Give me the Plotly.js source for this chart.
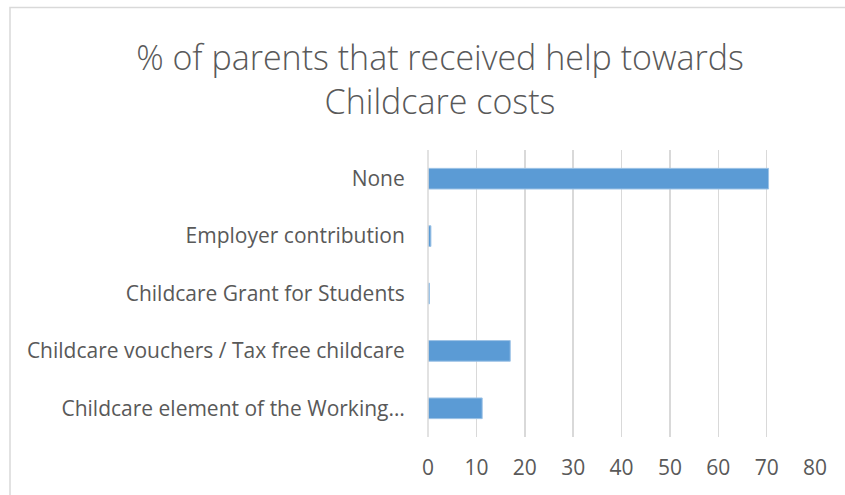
<!DOCTYPE html>
<html>
<head>
<meta charset="utf-8">
<script src="https://cdn.plot.ly/plotly-3.0.1.min.js"></script>
<style>
html,body{margin:0;padding:0;background:#fff;}
#chart{width:845px;height:495px;}
</style>
</head>
<body>
<div id="chart"></div>
<script>
const categories = [
  "Childcare element of the Working…",
  "Childcare vouchers / Tax free childcare",
  "Childcare Grant for Students",
  "Employer contribution",
  "None"
];
const values = [11.2, 17.0, 0.3, 0.6, 70.4];
const tickValues = [0, 10, 20, 30, 40, 50, 60, 70, 80];
const chartTitle = "% of parents that received help towards<br>Childcare costs";
const cutHeading = "towards Childcare costs";

const W = 845, H = 495;
const L = 428, R = 30, T = 150, B = 58;
const pw = W - L - R, ph = H - T - B;
const px = x => (x - L) / pw;
const py = y => (H - B - y) / ph;

const trace = {
  type: 'bar',
  orientation: 'h',
  x: values,
  y: categories,
  marker: {color: '#5b9bd5', line: {color: '#9dc3e6', width: 1}},
  hoverinfo: 'x+y'
};

const layout = {
  width: W, height: H,
  margin: {l: L, r: R, t: T, b: B, pad: 0},
  paper_bgcolor: '#ffffff',
  plot_bgcolor: '#ffffff',
  showlegend: false,
  bargap: 0.64,
  font: {family: '"Open Sans", Lato, sans-serif', color: '#595959'},
  title: {
    text: chartTitle,
    x: 440 / W, xanchor: 'center',
    y: 1 - 70 / H, yanchor: 'middle',
    xref: 'container', yref: 'container',
    font: {family: '"Open Sans", sans-serif', size: 34, color: '#595959', weight: 300}
  },
  xaxis: {
    range: [0, 80],
    tickvals: tickValues,
    ticktext: tickValues.map(String),
    showgrid: true,
    gridcolor: '#d9d9d9',
    gridwidth: 1.5,
    zeroline: false,
    showline: false,
    ticks: 'outside',
    ticklen: 12,
    tickcolor: 'rgba(0,0,0,0)',
    tickfont: {size: 21, color: '#595959'},
    fixedrange: true
  },
  yaxis: {
    type: 'category',
    categoryorder: 'array',
    categoryarray: categories,
    range: [-0.5, 4.5],
    showgrid: false,
    zeroline: false,
    showline: false,
    ticks: 'outside',
    ticklen: 18,
    tickcolor: 'rgba(0,0,0,0)',
    tickfont: {size: 21, color: '#595959'},
    fixedrange: true
  },
  shapes: [
    {type: 'line', xref: 'paper', yref: 'paper', x0: 0, x1: 0, y0: 0, y1: 1,
     line: {color: '#d9d9d9', width: 1.5}},
    {type: 'path', xref: 'paper', yref: 'paper',
     path: 'M ' + px(10) + ' ' + py(500) + ' L ' + px(10) + ' ' + py(7.5) + ' L ' + px(850) + ' ' + py(7.5),
     line: {color: '#d9d9d9', width: 1.5}}
  ],
  annotations: [
    {text: cutHeading, xref: 'paper', yref: 'paper', x: px(-77), y: py(9.5),
     xanchor: 'left', yanchor: 'bottom', showarrow: false,
     font: {family: '"Open Sans", sans-serif', size: 28, color: '#595959'}}
  ]
};

Plotly.newPlot('chart', [trace], layout, {displayModeBar: false, staticPlot: true});
</script>
</body>
</html>
